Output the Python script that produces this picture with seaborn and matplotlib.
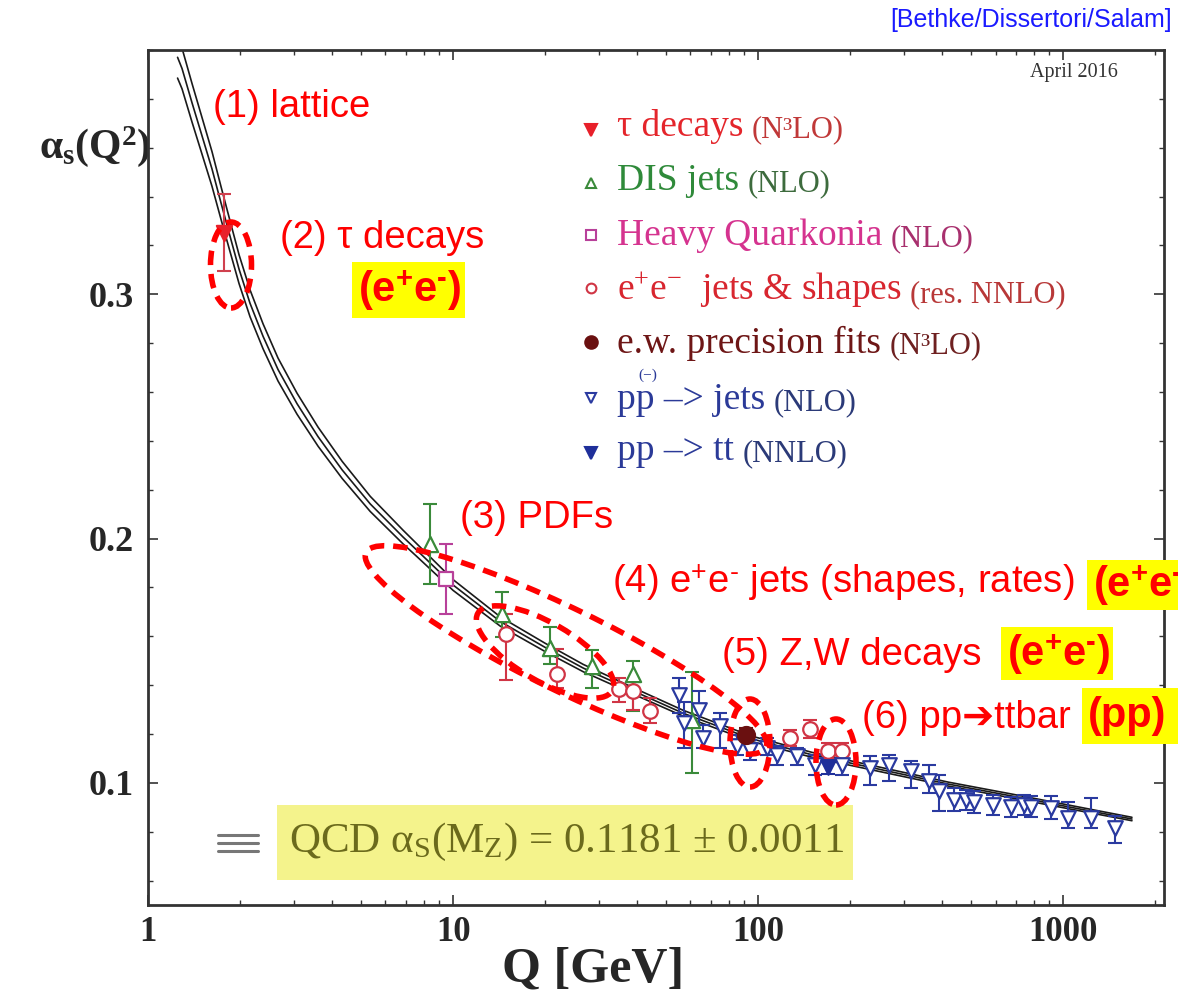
import matplotlib
matplotlib.use("Agg")
import numpy as np
import pandas as pd
import matplotlib.pyplot as plt
import seaborn as sns
from matplotlib.patches import Ellipse, Rectangle
from matplotlib.transforms import IdentityTransform
from matplotlib.lines import Line2D
from matplotlib.ticker import LogLocator, MultipleLocator, NullFormatter, FixedLocator

# ---------------- data ----------------
curve_q = [1.25, 1.293, 1.394, 1.503, 1.621, 1.735, 1.857, 1.988, 2.16, 2.383, 2.668, 3.08,
           3.61, 4.33, 5.35, 6.86, 7.6, 10, 14.3, 20, 26.7, 40, 56.8, 94.8, 150, 251, 420,
           686, 1680]
curve_alpha = [0.397, 0.3924, 0.3784, 0.3649, 0.3513, 0.3374, 0.3238, 0.3103, 0.2963, 0.2828,
               0.2692, 0.2552, 0.2417, 0.2281, 0.2142, 0.2006, 0.1953, 0.181, 0.166, 0.1555,
               0.147, 0.137, 0.1285, 0.1181, 0.1115, 0.1055, 0.0995, 0.0945, 0.0852]
curve_err = [0.0085, 0.0083, 0.0079, 0.0075, 0.0071, 0.0067, 0.0063, 0.0059, 0.0055, 0.0051,
             0.0047, 0.0043, 0.0039, 0.0035, 0.0031, 0.0028, 0.0026, 0.0022, 0.0019, 0.0017,
             0.0015, 0.0013, 0.0012, 0.0011, 0.0010, 0.0009, 0.0008, 0.0008, 0.0007]

tau_q = [1.78]
tau_alpha = [0.325]
tau_err_lo = [0.0155]
tau_err_hi = [0.016]

dis_q = [8.4, 14.5, 20.8, 28.6, 38.9, 60.8]
dis_alpha = [0.1977, 0.169, 0.1554, 0.148, 0.1444, 0.1259]
dis_err_lo = [0.0164, 0.0094, 0.0069, 0.009, 0.0148, 0.0218]
dis_err_hi = [0.0165, 0.009, 0.0083, 0.0062, 0.0056, 0.0193]

hq_q = [9.46]
hq_alpha = [0.1834]
hq_err_lo = [0.0144]
hq_err_hi = [0.0143]

ee_q = [14.9, 21.9, 35.0, 38.9, 44.3, 127, 148, 170, 188]
ee_alpha = [0.1608, 0.1444, 0.1386, 0.1378, 0.1296, 0.1185, 0.1222, 0.1131, 0.1131]
ee_err_lo = [0.0185, 0.0054, 0.0057, 0.0078, 0.005, 0.0033, 0.0037, 0.0032, 0.0032]
ee_err_hi = [0.0082, 0.0102, 0.0045, 0.0041, 0.0053, 0.0033, 0.0037, 0.0033, 0.0033]

ew_q = [91.2]
ew_alpha = [0.1197]
ew_err = [0.0028]

ppj_q = [55, 57, 64, 66, 75, 85.3, 94, 107, 115, 134, 154, 188, 233, 269, 318, 364, 392,
         439, 481, 511, 589, 676, 745, 785, 914, 1038, 1236, 1480]
ppj_alpha = [0.1361, 0.1246, 0.130, 0.1185, 0.1234, 0.1152, 0.1136, 0.1144, 0.1115, 0.111,
             0.1074, 0.1074, 0.1062, 0.1074, 0.1049, 0.1008, 0.0967, 0.093, 0.093, 0.0922,
             0.091, 0.0901, 0.091, 0.0901, 0.0897, 0.0856, 0.0856, 0.0815]
ppj_err_lo = [0.0074, 0.0102, 0.0062, 0.0041, 0.009, 0.0037, 0.0042, 0.0029, 0.0041, 0.0036,
              0.0041, 0.0041, 0.007, 0.0066, 0.0069, 0.0049, 0.0082, 0.0045, 0.0041, 0.0045,
              0.004, 0.004, 0.004, 0.004, 0.0045, 0.0041, 0.0041, 0.0061]
ppj_err_hi = [0.007, 0.0083, 0.0078, 0.0053, 0.0053, 0.0045, 0.0041, 0.0041, 0.0037, 0.0034,
              0.0041, 0.0041, 0.0049, 0.0041, 0.0041, 0.0066, 0.0066, 0.005, 0.0041, 0.0045,
              0.004, 0.004, 0.004, 0.0045, 0.005, 0.0066, 0.0082, 0.0049]

tt_q = [170]
tt_alpha = [0.1065]
tt_err = [0.003]

x_ticks = [1, 10, 100, 1000]
x_tick_labels = ["1", "10", "100", "1000"]
y_ticks = [0.1, 0.2, 0.3]
y_tick_labels = ["0.1", "0.2", "0.3"]

legend_main = ["τ decays", "DIS jets", "Heavy Quarkonia",
               "e$^\\mathregular{+}$e$^\\mathregular{-}$  jets & shapes",
               "e.w. precision fits",
               "pp –> jets",
               "pp –> tt"]
legend_suffix = ["(N³LO)", "(NLO)", "(NLO)", "(res. NNLO)", "(N³LO)", "(NLO)", "(NNLO)"]

EPEM = "e$^{\\mathregular{+}}$e$^{\\mathregular{\u2010}}$"

# ---------------- styling ----------------
sns.set_style("ticks")
plt.rcParams["font.family"] = ["Liberation Serif", "DejaVu Serif"]
plt.rcParams["mathtext.fontset"] = "custom"
plt.rcParams["mathtext.rm"] = "Liberation Serif"
plt.rcParams["mathtext.it"] = "Liberation Serif:italic"
plt.rcParams["mathtext.bf"] = "Liberation Serif:bold"

W, H = 1178, 1005
SANS = ["Liberation Sans", "DejaVu Sans"]


def fx(x):
    return x / W


def fy(y):
    return 1 - y / H


fig = plt.figure(figsize=(W / 100, H / 100), dpi=100)
fig.patch.set_facecolor("white")
ax = fig.add_axes([148 / W, 1 - 905 / H, (1164 - 148) / W, (905 - 50) / H])
ax.set_facecolor("white")

# ---------------- theory band (three lines) ----------------
ca = np.array(curve_alpha)
ce = np.array(curve_err)
for yy in (ca + ce, ca, ca - ce):
    sns.lineplot(x=curve_q, y=yy, ax=ax, color="#1a1a1a", lw=1.2, legend=False, zorder=2,
                 sort=False)

# ---------------- measurements ----------------
groups = [
    dict(q=tau_q, a=tau_alpha, lo=tau_err_lo, hi=tau_err_hi, m="v", fc="#e8202a", ec="#e8202a",
         bar="#d0404e", s=120),
    dict(q=dis_q, a=dis_alpha, lo=dis_err_lo, hi=dis_err_hi, m="^", fc="white", ec="#3a8a3a",
         bar="#3a8a3a", s=120),
    dict(q=hq_q, a=hq_alpha, lo=hq_err_lo, hi=hq_err_hi, m="s", fc="white", ec="#b8409a",
         bar="#b8409a", s=110),
    dict(q=ee_q, a=ee_alpha, lo=ee_err_lo, hi=ee_err_hi, m="o", fc="white", ec="#d03545",
         bar="#d03545", s=110),
    dict(q=ppj_q, a=ppj_alpha, lo=ppj_err_lo, hi=ppj_err_hi, m="v", fc="white", ec="#2a3aa0",
         bar="#2a3aa0", s=110),
    dict(q=tt_q, a=tt_alpha, lo=tt_err, hi=tt_err, m="v", fc="#1f2f9a", ec="#1f2f9a",
         bar="#1f2f9a", s=110),
    dict(q=ew_q, a=ew_alpha, lo=ew_err, hi=ew_err, m="o", fc="#6a1010", ec="#6a1010",
         bar="#6a1010", s=150),
]
for g in groups:
    ax.errorbar(g["q"], g["a"], yerr=[g["lo"], g["hi"]], fmt="none", ecolor=g["bar"],
                elinewidth=1.5, capsize=5, capthick=1.5, zorder=3)
    df = pd.DataFrame({"Q": g["q"], "alpha": g["a"]})
    sns.scatterplot(data=df, x="Q", y="alpha", ax=ax, marker=g["m"], s=g["s"],
                    color=g["fc"], edgecolor=g["ec"], linewidth=1.6, zorder=4, legend=False)

# ---------------- axes ----------------
ax.set_xscale("log")
ax.set_xlim(1, 2140)
ax.set_ylim(0.05, 0.40)
ax.xaxis.set_major_locator(FixedLocator(x_ticks))
ax.set_xticklabels(x_tick_labels)
ax.xaxis.set_minor_locator(LogLocator(base=10, subs=np.arange(2, 10)))
ax.xaxis.set_minor_formatter(NullFormatter())
ax.yaxis.set_major_locator(FixedLocator(y_ticks))
ax.set_yticklabels(y_tick_labels)
ax.yaxis.set_minor_locator(MultipleLocator(0.02))
ax.tick_params(which="both", direction="in", top=True, right=True, color="#333333")
ax.tick_params(which="major", length=7, width=1.2)
ax.tick_params(which="minor", length=3.5, width=1.0)
ax.tick_params(axis="x", which="major", labelsize=25, pad=8)
ax.tick_params(axis="y", which="major", labelsize=26, pad=10)
for lab in ax.get_xticklabels() + ax.get_yticklabels():
    lab.set_fontweight("bold")
for sp in ax.spines.values():
    sp.set_linewidth(2.0)
    sp.set_color("#333333")

ax.set_xlabel("Q [GeV]", fontsize=36, fontweight="bold")
ax.xaxis.set_label_coords((593 - 148) / 1016, -(970 - 905) / 855)
ax.xaxis.label.set_va("center")
ax.set_ylabel("α$_\\mathregular{s}$(Q$^\\mathregular{2}$)", fontsize=30, fontweight="bold",
              rotation=0)
ax.yaxis.set_label_coords((95 - 148) / 1016, (905 - 147) / 855)
ax.yaxis.label.set_va("center")
ax.yaxis.label.set_ha("center")

# ---------------- legend (manual) ----------------
leg_rows = [127, 181, 236, 289, 343, 400, 451]
leg_marker_y = [130, 183, 235, 288, 342, 398, 453]
leg_colors = [("#e4252b", "#c03838"), ("#2f8a3a", "#3d6b3d"), ("#d5338f", "#a8306e"),
              ("#d8262f", "#b83838"), ("#6e1616", "#6e2020"), ("#2b3a98", "#2b3a78"),
              ("#2b3a98", "#2b3a78")]
leg_markers = [("v", "#e8202a", "#e8202a", 9), ("^", "white", "#3a8a3a", 7),
               ("s", "white", "#b8409a", 7), ("o", "white", "#d03545", 7),
               ("o", "#6a1010", "#6a1010", 9), ("v", "white", "#2a3aa0", 7),
               ("v", "#1f2f9a", "#1f2f9a", 9)]
for i in range(7):
    m, mfc, mec, ms = leg_markers[i]
    fig.add_artist(Line2D([591], [H - leg_marker_y[i]], marker=m, ms=ms, mfc=mfc, mec=mec,
                          mew=1.5, ls="none", transform=IdentityTransform()))
    t = fig.text(fx(617), fy(leg_rows[i]), legend_main[i], fontsize=27, color=leg_colors[i][0],
                 ha="left", va="center")
    ax.annotate(legend_suffix[i], xy=(1, 0), xycoords=t, xytext=(6, 0),
                textcoords="offset points", ha="left", va="bottom", fontsize=22,
                color=leg_colors[i][1])
# the "(-)" over the second p of p(p)bar
fig.text(fx(648), fy(375), "(−)", fontsize=11, color="#2b3a98", ha="center", va="center")

# ---------------- notes ----------------
fig.text(fx(1172), fy(20), "[Bethke/Dissertori/Salam]", fontsize=18, color="#1a1aff",
         family=SANS, ha="right", va="center")
fig.text(fx(1074), fy(73), "April 2016", fontsize=14.5, color="#333333", ha="center",
         va="center")

# QCD box
fig.add_artist(Rectangle((277, H - 880), 576, 75, transform=IdentityTransform(),
                         fc="#f4f38c", ec="none", zorder=1))
fig.text(fx(289), fy(842), "QCD α$_\\mathregular{S}$(M$_\\mathregular{Z}$) = 0.1181 ± 0.0011",
         fontsize=31, color="#6b6a1c", ha="left", va="center", zorder=2)
for dy in (-8, 0, 8):
    fig.add_artist(Line2D([218, 258], [H - 843 + dy] * 2, color="#777777", lw=2.2,
                          transform=IdentityTransform()))

# red annotations
red = "#ff0000"
ann = [("(1) lattice", 213, 107), ("(2) τ decays", 280, 238), ("(3) PDFs", 460, 518),
       ("(4) " + EPEM + " jets (shapes, rates)", 612, 583),
       ("(5) Z,W decays", 722, 655), ("(6) pp➔ttbar", 862, 718)]
for s, x, y in ann:
    fig.text(fx(x), fy(y), s, fontsize=27.5, color=red, family=SANS, ha="left", va="center",
             zorder=5)

boxes = [(352, 262, 465, 318, "(" + EPEM + ")"),
         (1087, 560, 1182, 610, "(" + EPEM + ")"),
         (1001, 627, 1113, 680, "(" + EPEM + ")"),
         (1082, 688, 1182, 744, "(pp)")]
for x0, y0, x1, y1, s in boxes:
    fig.add_artist(Rectangle((x0, H - y1), x1 - x0, y1 - y0, transform=IdentityTransform(),
                             fc="#ffff00", ec="none", zorder=4))
    fig.text(fx(x0 + 6), fy((y0 + y1) / 2), s, fontsize=30, fontweight="bold", color=red,
             family=SANS, ha="left", va="center", zorder=5)

# dashed ellipses
ell = [(231, 265, 41, 86, 0), (566, 650, 445, 82, -26), (545, 652, 155, 58, -30),
       (750, 743, 40, 88, 0), (836, 762, 40, 86, 0)]
for cx, cy, w, h, a in ell:
    fig.add_artist(Ellipse((cx, H - cy), w, h, angle=a, transform=IdentityTransform(),
                           fill=False, ec=red, lw=4, ls=(0, (2.6, 1.6)), zorder=6))

fig.savefig("out.png", dpi=100)
